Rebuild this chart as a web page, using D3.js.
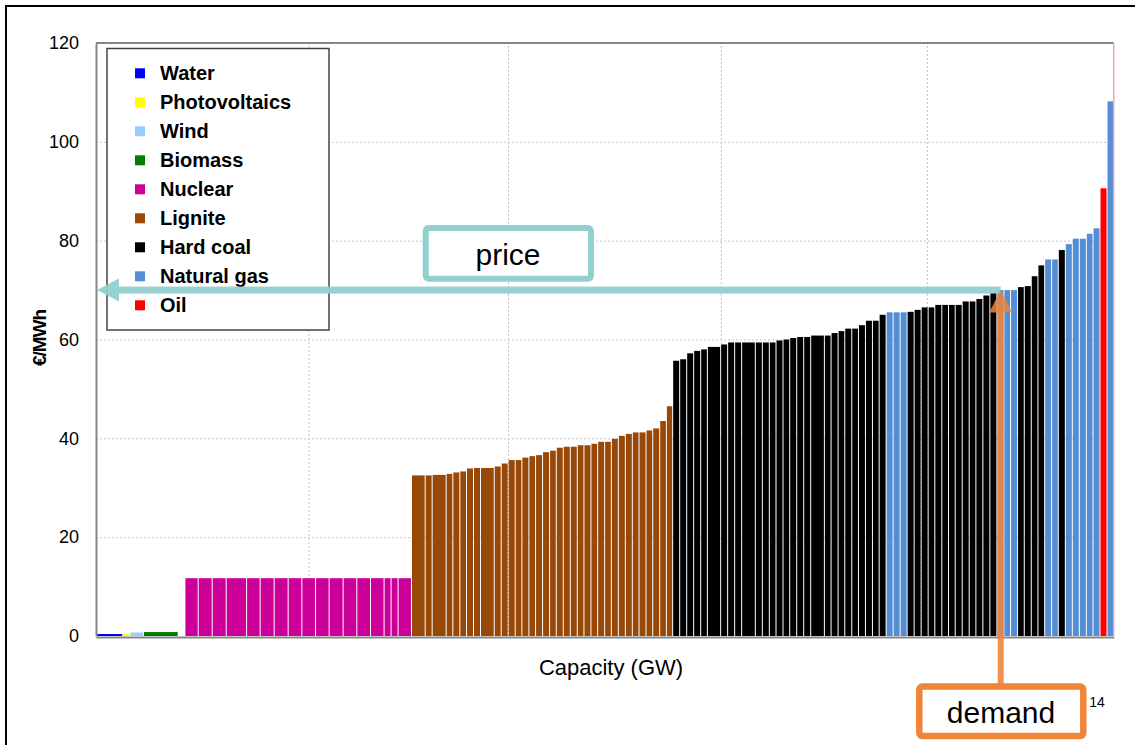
<!DOCTYPE html>
<html>
<head>
<meta charset="utf-8">
<script src="https://cdn.jsdelivr.net/npm/d3@7"></script>
<style>
  body { margin: 0; background: #fff; }
  svg { display: block; font-family: "Liberation Sans", Arial, Helvetica, sans-serif; }
</style>
</head>
<body>
<svg id="chart" width="1135" height="745"></svg>
<script>
// ---------------- DATA ----------------
const categories = ["Water", "Photovoltaics", "Wind", "Biomass", "Nuclear", "Lignite", "Hard coal", "Natural gas", "Oil"];

// one entry per power-plant block, in merit order
const barTypes = [
  "Water", "Photovoltaics", "Wind", "Biomass", "Wind",
  ...Array(17).fill("Nuclear"),
  ...Array(35).fill("Lignite"),
  ...Array(28).fill("Hard coal"),
  "Natural gas", "Natural gas", "Natural gas",
  "Hard coal", "Hard coal", "Hard coal", "Hard coal", "Hard coal", "Hard coal", "Hard coal",
  "Hard coal", "Hard coal", "Hard coal", "Hard coal", "Hard coal", "Hard coal",
  "Natural gas", "Natural gas", "Natural gas",
  "Hard coal", "Hard coal", "Hard coal", "Hard coal",
  "Natural gas", "Natural gas", "Hard coal",
  "Natural gas", "Natural gas", "Natural gas", "Natural gas", "Natural gas",
  "Oil", "Natural gas"
];

// capacity of each block (GW)
const capacityGW = [
  2.59, 0.71, 1.31, 3.38, 0.65,
  // nuclear
  1.29, 1.36, 1.36, 1.98, 1.32, 1.36, 1.36, 1.33, 1.33, 1.32, 1.36, 1.33, 1.33, 1.32, 0.68, 0.68, 1.30,
  // lignite
  1.33, 0.68, 1.36, 0.65, 0.68, 0.65, 0.68, 0.68, 1.33, 0.68, 0.68, 0.68, 0.65, 0.68, 0.65, 0.68, 0.68, 0.65,
  0.68, 0.68, 0.68, 0.65, 0.68, 0.65, 0.68, 0.65, 0.68, 0.68, 0.68, 0.65, 0.68, 0.65, 0.68, 0.65, 0.61,
  // hard coal
  0.68, 0.68, 0.68, 0.68, 0.65, 1.29, 0.68, 0.68, 0.68, 1.33, 0.68, 0.68, 0.65, 0.68, 0.65, 0.68, 0.68, 0.68,
  1.33, 0.65, 0.68, 0.65, 0.68, 0.65, 0.68, 0.68, 0.65, 0.68,
  // mixed tail
  0.68, 0.68, 0.68, 0.68, 0.68, 0.68, 0.65, 0.68, 0.65, 0.65, 0.68, 0.68, 0.65, 0.68, 0.68, 0.68, 0.68,
  0.65, 0.68, 0.65, 0.68, 0.65, 0.65, 0.68, 0.65, 0.68, 0.68, 0.68, 0.68, 0.65, 0.68, 0.68, 0.65
];

// marginal cost of each block (€/MWh)
const priceEUR = [
  0.4, 0.5, 0.7, 0.8, 0,
  // nuclear
  11.7, 11.7, 11.7, 11.7, 11.7, 11.7, 11.7, 11.7, 11.7, 11.7, 11.7, 11.7, 11.7, 11.7, 11.7, 11.7, 11.7,
  // lignite
  32.5, 32.5, 32.6, 32.8, 33.1, 33.3, 33.9, 34.0, 34.0, 34.3, 34.9, 35.6, 35.6, 36.1, 36.4, 36.6, 37.2, 37.5,
  38.1, 38.3, 38.3, 38.6, 38.6, 38.9, 39.3, 39.3, 39.9, 40.5, 40.9, 41.2, 41.2, 41.6, 42.0, 43.5, 46.5,
  // hard coal
  55.7, 56.0, 57.2, 57.7, 58.0, 58.5, 59.0, 59.4, 59.4, 59.4, 59.4, 59.4, 59.4, 59.8, 60.0, 60.3, 60.5, 60.5,
  60.8, 60.8, 61.3, 61.7, 62.2, 62.2, 62.9, 63.8, 63.8, 65.0,
  // mixed tail
  65.5, 65.5, 65.5, 65.6, 66.0, 66.5, 66.5, 67.0, 67.0, 67.0, 67.0, 67.7, 67.7, 68.2, 68.9, 69.4, 70.0,
  70.0, 70.0, 70.6, 70.8, 72.8, 75.0, 76.2, 76.2, 78.1, 79.3, 80.4, 80.4, 81.4, 82.5, 90.6, 108.2
];

const yTickValues = [0, 20, 40, 60, 80, 100, 120];
const xGridGW = [20.65, 40.03, 60.71, 80.73];
const demandGW = 87.9;
const clearingPrice = 70;
const pageNumber = "14";

// ---------------- STYLE ----------------
const palette = ["#0000ff", "#ffff00", "#99ccff", "#008000", "#cc0099", "#984807", "#000000", "#558ed5", "#ff0000"];
const color = d3.scaleOrdinal(categories, palette);
const teal = "#92cfcf";
const orange = "#f0853a";

const svg = d3.select("#chart");
const L = 96, R = 1113.7, T = 43, B = 636;

const x = d3.scaleLinear().domain([0, d3.sum(capacityGW)]).range([L, R]);
const y = d3.scaleLinear().domain([0, 120]).range([B, T]);

// outer slide frame
svg.append("rect").attr("x", 6).attr("y", 6).attr("width", 1300).attr("height", 900)
  .attr("fill", "none").attr("stroke", "#000").attr("stroke-width", 2);

// horizontal gridlines
svg.append("g").attr("transform", `translate(${L},0)`)
  .call(d3.axisLeft(y).tickValues(yTickValues.filter(v => v > 0 && v < 120)).tickSize(-(R - L)).tickFormat(""))
  .call(g => g.select(".domain").remove())
  .call(g => g.selectAll("line").attr("stroke", "#c4c4c4").attr("stroke-dasharray", "2,2"));

// vertical gridlines
svg.append("g").attr("transform", `translate(0,${B})`)
  .call(d3.axisBottom(x).tickValues(xGridGW).tickSize(-(B - T)).tickFormat(""))
  .call(g => g.select(".domain").remove())
  .call(g => g.selectAll("line").attr("stroke", "#c4c4c4").attr("stroke-dasharray", "2,2"));

// bars
let acc = 0;
const bars = capacityGW.map((c, i) => {
  const b = { x0: acc, x1: acc + c, p: priceEUR[i], t: barTypes[i] };
  acc += c;
  return b;
});

const gap = 1;
svg.append("g").selectAll("rect").data(bars.filter(d => d.p > 0)).join("rect")
  .attr("x", d => x(d.x0) + gap / 2)
  .attr("width", d => Math.max(0.5, x(d.x1) - x(d.x0) - gap))
  .attr("y", d => y(d.p))
  .attr("height", d => y(0) - y(d.p))
  .attr("fill", d => color(d.t));

// plot frame
svg.append("line").attr("x1", L).attr("x2", R).attr("y1", T).attr("y2", T).attr("stroke", "#111").attr("stroke-width", 1.2);
svg.append("line").attr("x1", R).attr("x2", R).attr("y1", T).attr("y2", B).attr("stroke", "#e8a8b8").attr("stroke-width", 1.5);

// y axis
const yAxis = svg.append("g").attr("transform", `translate(${L},0)`)
  .call(d3.axisLeft(y).tickValues(yTickValues).tickSize(0).tickPadding(17));
yAxis.select(".domain").attr("stroke", "#888").attr("stroke-width", 2);
yAxis.selectAll("text").attr("font-size", 18).attr("fill", "#000")
  .attr("font-family", "Liberation Sans, Arial, sans-serif");

// x axis line
const xAxis = svg.append("g").attr("transform", `translate(0,${B + 1})`)
  .call(d3.axisBottom(x).tickValues([]).tickSize(0));
xAxis.select(".domain").attr("stroke", "#888").attr("stroke-width", 2);

// axis titles
svg.append("text").attr("x", 611).attr("y", 667).attr("text-anchor", "middle")
  .attr("dominant-baseline", "central").attr("font-size", 22).text("Capacity (GW)");
svg.append("text").attr("transform", "translate(39,338) rotate(-90)").attr("text-anchor", "middle")
  .attr("dominant-baseline", "central").attr("font-size", 19).attr("font-weight", "bold")
  .attr("letter-spacing", -1).text("€/MWh");

// legend
const lg = svg.append("g");
lg.append("rect").attr("x", 107).attr("y", 48.5).attr("width", 222).attr("height", 281.5)
  .attr("fill", "#fff").attr("stroke", "#444").attr("stroke-width", 1.5);
categories.forEach((c, i) => {
  const cy = 73.3 + 29 * i;
  lg.append("rect").attr("x", 135).attr("y", cy - 5).attr("width", 10).attr("height", 10).attr("fill", color(c));
  lg.append("text").attr("x", 160).attr("y", cy).attr("dominant-baseline", "central")
    .attr("font-size", 20).attr("font-weight", "bold").text(c);
});

// price arrow
const py = y(clearingPrice);
const dx = x(demandGW);
const ann = svg.append("g");
ann.append("rect").attr("x", L + 23).attr("y", py - 3.5).attr("width", dx - (L + 23)).attr("height", 7)
  .attr("fill", teal).attr("opacity", 0.95);
ann.append("path").attr("d", `M${L + 1},${py} L${L + 23},${py - 11.5} L${L + 23},${py + 11.5} Z`)
  .attr("fill", teal).attr("opacity", 0.95);

// price box
ann.append("rect").attr("x", 425.7).attr("y", 228).attr("width", 165.3).attr("height", 50.7).attr("rx", 3)
  .attr("fill", "#fff").attr("stroke", teal).attr("stroke-width", 6);
ann.append("text").attr("x", 508).attr("y", 254).attr("text-anchor", "middle").attr("dominant-baseline", "central")
  .attr("font-size", 30).text("price");

// demand arrow
ann.append("rect").attr("x", dx - 3).attr("y", py + 22).attr("width", 6).attr("height", 686 - (py + 22))
  .attr("fill", orange).attr("opacity", 0.9);
ann.append("path").attr("d", `M${dx},${py} L${dx - 11.5},${py + 22.5} L${dx + 11.5},${py + 22.5} Z`)
  .attr("fill", orange).attr("opacity", 0.85);

// demand box
ann.append("rect").attr("x", 919.3).attr("y", 686.6).attr("width", 164).attr("height", 49.5).attr("rx", 3)
  .attr("fill", "#fff").attr("stroke", orange).attr("stroke-width", 6.5);
ann.append("text").attr("x", 1001).attr("y", 712).attr("text-anchor", "middle").attr("dominant-baseline", "central")
  .attr("font-size", 30).text("demand");

// page number
svg.append("text").attr("x", 1097).attr("y", 702).attr("text-anchor", "middle").attr("dominant-baseline", "central")
  .attr("font-size", 14).text(pageNumber);
</script>
</body>
</html>
